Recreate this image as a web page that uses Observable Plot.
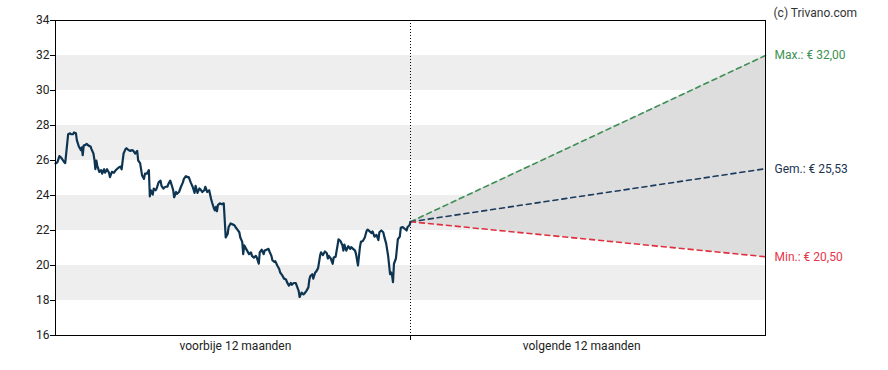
<!DOCTYPE html>
<html>
<head>
<meta charset="utf-8">
<script src="https://cdn.jsdelivr.net/npm/d3@7"></script>
<script src="https://cdn.jsdelivr.net/npm/@observablehq/plot@0.6"></script>
<style>
  html, body { margin: 0; padding: 0; background: #fff; }
  #chart svg { display: block; font-family: Roboto, "Liberation Sans", Arial, sans-serif; }
</style>
</head>
<body>
<div id="chart"></div>
<script>
// Past 12 months: day offset (negative = days before today) and closing price
const pastDay = [-365,-363,-361,-359,-356,-355,-353,-352,-350,-349,-347,-346,-344,-343,-341,-339,-338,-337,-336,-334,-333,-331,-329,-328,-326,-325,-324,-323,-322,-320,-318,-317,-315,-314,-312,-310,-309,-307,-305,-303,-302,-300,-298,-297,-295,-293,-292,-290,-288,-286,-285,-283,-281,-280,-278,-276,-274,-273,-271,-269,-268,-267,-265,-264,-262,-261,-259,-257,-256,-254,-252,-250,-249,-247,-245,-244,-243,-241,-240,-238,-236,-234,-233,-231,-229,-228,-226,-224,-222,-221,-219,-217,-216,-214,-212,-211,-209,-207,-205,-204,-202,-201,-200,-199,-198,-196,-194,-192,-191,-190,-188,-187,-185,-183,-181,-180,-178,-176,-175,-173,-172,-171,-169,-168,-166,-164,-163,-161,-159,-158,-156,-155,-153,-151,-150,-148,-146,-145,-143,-142,-140,-139,-137,-135,-134,-132,-130,-128,-127,-125,-123,-122,-120,-118,-117,-115,-114,-112,-110,-109,-107,-105,-104,-103,-101,-100,-98,-97,-95,-93,-92,-90,-88,-86,-85,-84,-82,-80,-79,-77,-75,-74,-72,-70,-69,-68,-66,-64,-62,-61,-59,-57,-56,-54,-52,-51,-49,-47,-45,-44,-42,-40,-39,-37,-35,-33,-32,-30,-28,-27,-25,-23,-21,-20,-19,-18,-17,-15,-14,-13,-11,-10,-8,-6,-4,-3,-1,0];
const pastPrice = [25.83,25.9,26.25,26.15,25.9,25.85,26.95,27.5,27.55,27.5,27.5,27.6,27.55,27.15,26.8,26.6,26.75,26.3,26.85,26.9,26.95,26.85,26.8,26.65,26.4,26.05,25.5,26.0,25.7,25.35,25.45,25.25,25.5,25.3,25.5,25.3,25.05,25.35,25.3,25.45,25.5,25.6,25.65,25.5,26.4,26.65,26.7,26.6,26.55,26.6,26.55,26.4,26.55,26.0,25.85,25.15,24.95,25.25,25.25,25.45,23.95,24.3,24.05,24.4,24.3,24.4,24.75,24.85,24.55,24.4,24.5,24.5,24.65,24.85,24.5,24.3,23.9,24.2,24.1,24.2,24.5,24.75,24.95,25.1,25.05,25.05,24.75,24.5,24.15,24.55,24.15,24.4,24.35,24.2,24.3,24.5,24.2,24.3,23.8,23.6,23.25,23.15,23.35,23.1,23.45,23.55,23.5,23.55,22.6,21.6,21.8,22.2,22.4,22.35,22.3,22.2,22.05,21.9,21.6,21.35,20.65,21.15,20.95,20.85,20.65,20.75,20.55,20.45,20.55,20.45,20.1,20.75,20.9,20.65,20.85,20.9,20.95,20.8,20.55,20.3,20.2,20.25,20.0,19.8,19.6,19.45,19.25,19.2,19.05,18.85,19.0,18.9,19.0,19.0,18.85,18.55,18.2,18.45,18.35,18.4,18.55,18.75,19.2,19.4,19.5,19.25,19.6,19.65,19.85,20.55,20.75,20.6,20.8,20.7,20.4,20.55,20.4,20.1,20.45,20.5,21.15,21.5,21.4,21.15,20.85,21.2,20.85,21.1,20.95,21.05,20.95,20.85,20.65,20.0,21.05,21.35,21.4,21.6,22.0,22.05,21.95,21.85,21.95,21.65,21.75,21.45,21.9,22.0,21.9,21.65,21.25,20.55,19.5,19.6,19.45,19.05,20.1,20.4,20.95,21.5,21.65,22.15,22.2,22.1,22.0,22.2,22.3,22.5];

// Forecast for the next 12 months
const forecastDay = [0, 365];
const forecastMax = [22.5, 32.00];
const forecastAvg = [22.5, 25.53];
const forecastMin = [22.5, 20.50];
const forecastLabels = ["Max.: € 32,00", "Gem.: € 25,53", "Min.: € 20,50"];

// Axis ticks and labels
const yTicks = [16, 18, 20, 22, 24, 26, 28, 30, 32, 34];
const bandLow = [18, 22, 26, 30];
const periodLabels = ["voorbije 12 maanden", "volgende 12 maanden"];
const periodCenters = [-180, 176];
const copyright = "(c) Trivano.com";

const past = pastDay.map((d, i) => ({day: d, price: pastPrice[i]}));
const forecast = forecastDay.map((d, i) => ({day: d, max: forecastMax[i], avg: forecastAvg[i], min: forecastMin[i]}));
const bands = bandLow.map(v => ({y1: v, y2: v + 2}));
const endLabels = [
  {day: 365, value: forecastMax[1], text: forecastLabels[0], color: "#3d9152"},
  {day: 365, value: forecastAvg[1], text: forecastLabels[1], color: "#1b3352"},
  {day: 365, value: forecastMin[1], text: forecastLabels[2], color: "#e8334a"}
];
const periods = periodLabels.map((t, i) => ({day: periodCenters[i], text: t}));

const chart = Plot.plot({
  width: 888,
  height: 370,
  marginLeft: 55,
  marginRight: 123,
  marginTop: 20,
  marginBottom: 35,
  style: {fontFamily: "Roboto, 'Liberation Sans', Arial, sans-serif", fontSize: "12px", color: "#222"},
  x: {domain: [-365, 365]},
  y: {domain: [16, 34]},
  marks: [
    Plot.rect(bands, {y1: "y1", y2: "y2", fill: "#eeeeee"}),
    Plot.areaY(forecast, {x: "day", y1: "min", y2: "max", fill: "#dddddd"}),
    Plot.ruleX([0], {stroke: "#000", strokeWidth: 1, strokeDasharray: "1,2"}),
    Plot.line(forecast, {x: "day", y: "max", stroke: "#3d8f55", strokeWidth: 1.6, strokeDasharray: "5,4"}),
    Plot.line(forecast, {x: "day", y: "avg", stroke: "#1b3a5c", strokeWidth: 1.6, strokeDasharray: "5,4"}),
    Plot.line(forecast, {x: "day", y: "min", stroke: "#e0303f", strokeWidth: 1.6, strokeDasharray: "5,4"}),
    Plot.line(past, {x: "day", y: "price", stroke: "#0d3552", strokeWidth: 2.2, strokeLinejoin: "round"}),
    Plot.text(endLabels, {x: "day", y: "value", text: "text", fill: "color", textAnchor: "start", dx: 9, fontSize: 12}),
    Plot.axisY(yTicks, {tickSize: 5, tickPadding: 1, fontSize: 12, stroke: "#000", fill: "#222", label: null}),
    Plot.axisX([0], {tickSize: 5, tickFormat: () => "", stroke: "#000", label: null}),
    Plot.text(periods, {x: "day", frameAnchor: "bottom", text: "text", dy: 14, fontSize: 12, fill: "#222"}),
    Plot.text([copyright], {frameAnchor: "top-right", textAnchor: "start", dx: 8, dy: -12, fontSize: 12, fill: "#333"}),
    Plot.frame({stroke: "#000", strokeWidth: 1})
  ]
});
document.getElementById("chart").appendChild(chart);
</script>
</body>
</html>
